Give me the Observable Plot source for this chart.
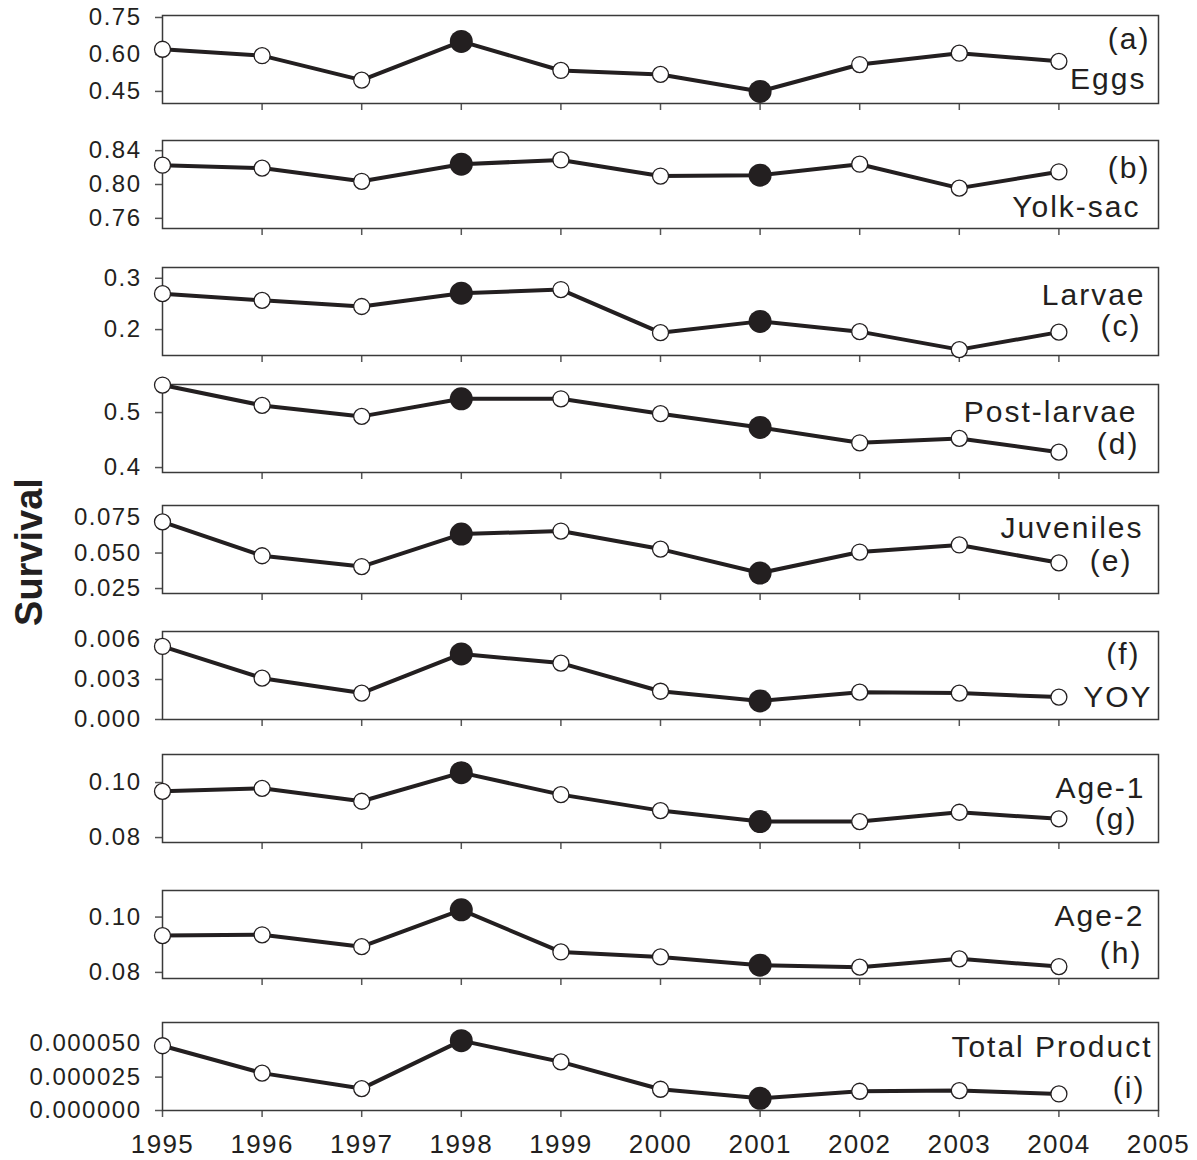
<!DOCTYPE html>
<html>
<head>
<meta charset="utf-8">
<script src="https://cdn.jsdelivr.net/npm/d3@7"></script>
<script src="https://cdn.jsdelivr.net/npm/@observablehq/plot@0.6"></script>
<style>
  body { margin: 0; background: #fff; }
  #chart { position: relative; width: 1197px; height: 1160px; color: #231f20;
           font-family: "Liberation Sans", Arial, Helvetica, sans-serif; }
  #chart svg { position: absolute; left: 0; overflow: visible; background: transparent;
               font-family: "Liberation Sans", Arial, Helvetica, sans-serif; }
  #chart svg [aria-label="y-axis tick label"] text { letter-spacing: 1.5px; }
  #chart svg [aria-label="x-axis tick label"] text { letter-spacing: 1.4px; }
  #chart svg [aria-label="text"] text { letter-spacing: 2px; }
  #ylabel { position: absolute; left: 29px; top: 552px; transform: translate(-50%, -50%) rotate(-90deg);
            font-weight: bold; font-size: 38px; line-height: 1; white-space: nowrap; }
</style>
</head>
<body>
<div id="chart"><div id="ylabel">Survival</div></div>
<script>
// ---- data ----
const years = [1995, 1996, 1997, 1998, 1999, 2000, 2001, 2002, 2003, 2004];
const xTicks = [1995, 1996, 1997, 1998, 1999, 2000, 2001, 2002, 2003, 2004, 2005];
const highlightYears = [1998, 2001];

const eggs       = [0.621, 0.595, 0.496, 0.653, 0.535, 0.519, 0.450, 0.559, 0.605, 0.572];
const yolkSac    = [0.8228, 0.8194, 0.8038, 0.8240, 0.8290, 0.8100, 0.8110, 0.8240, 0.7957, 0.8150];
const larvae     = [0.270, 0.257, 0.245, 0.271, 0.278, 0.194, 0.216, 0.196, 0.161, 0.195];
const postLarvae = [0.550, 0.513, 0.493, 0.525, 0.525, 0.498, 0.473, 0.445, 0.453, 0.428];
const juveniles  = [0.0720, 0.0481, 0.0405, 0.0634, 0.0655, 0.0528, 0.0359, 0.0507, 0.0557, 0.0431];
const yoy        = [0.00548, 0.00310, 0.00198, 0.00492, 0.00423, 0.00212, 0.00139, 0.00205, 0.00198, 0.00168];
const age1       = [0.0968, 0.0979, 0.0932, 0.1036, 0.0956, 0.0898, 0.0858, 0.0858, 0.0892, 0.0868];
const age2       = [0.0933, 0.0936, 0.0893, 0.1026, 0.0874, 0.0856, 0.0826, 0.0819, 0.0849, 0.0821];
const totalProd  = [0.0000485, 0.0000280, 0.0000164, 0.0000523, 0.0000364, 0.0000159, 0.0000091, 0.0000144, 0.0000149, 0.0000124];

const series = [eggs, yolkSac, larvae, postLarvae, juveniles, yoy, age1, age2, totalProd];
const stageNames = ["Eggs", "Yolk-sac", "Larvae", "Post-larvae", "Juveniles", "YOY", "Age-1", "Age-2", "Total Product"];
const panelLetters = ["(a)", "(b)", "(c)", "(d)", "(e)", "(f)", "(g)", "(h)", "(i)"];
const letterFirst = [true, true, false, false, false, true, false, false, false];

const yTicks = [
  [0.45, 0.60, 0.75],
  [0.76, 0.80, 0.84],
  [0.2, 0.3],
  [0.4, 0.5],
  [0.025, 0.050, 0.075],
  [0.000, 0.003, 0.006],
  [0.08, 0.10],
  [0.08, 0.10],
  [0.000000, 0.000025, 0.000050]
];
const yFormats = [".2f", ".2f", ".1f", ".1f", ".3f", ".3f", ".2f", ".2f", ".6f"];
const yDomains = [
  [0.401, 0.758],
  [0.748, 0.852],
  [0.1495, 0.321],
  [0.391, 0.551],
  [0.0215, 0.0835],
  [0, 0.0066],
  [0.0782, 0.1102],
  [0.0778, 0.1096],
  [0, 0.0000659]
];

// ---- layout ----
const frameTops = [15, 140, 267, 384, 505, 631, 754, 890, 1022];
const frameH = 88;
// label offsets from the frame's top-right corner: [dx1, dy1, dx2, dy2]
const labelOffsets = [
  [-8, 33, -12, 73],
  [-8, 37, -18, 76],
  [-13, 37, -17, 68],
  [-21, 37, -19, 69],
  [-15, 32, -26, 65],
  [-18, 32, -6, 75],
  [-13, 43, -21, 74],
  [-14, 35, -16, 72],
  [-6, 34, -13, 75]
];
const ink = "#231f20";

const chart = document.getElementById("chart");

series.forEach((vals, i) => {
  const data = years.map((year, j) => ({year, value: vals[j], hi: highlightYears.includes(year)}));
  const lines = letterFirst[i] ? [panelLetters[i], stageNames[i]] : [stageNames[i], panelLetters[i]];
  const [dx1, dy1, dx2, dy2] = labelOffsets[i];
  const isLast = i === series.length - 1;
  const mt = 14, mb = isLast ? 50 : 14;
  const plot = Plot.plot({
    width: 1197,
    height: frameH + mt + mb,
    marginLeft: 162,
    marginRight: 39,
    marginTop: mt,
    marginBottom: mb,
    x: {domain: [1995, 2005]},
    y: {domain: yDomains[i]},
    marks: [
      Plot.axisY({ticks: yTicks[i], tickFormat: d3.format(yFormats[i]), tickSize: 7, tickPadding: 14,
                  fontSize: 24, stroke: "#555", strokeWidth: 1.5, fill: ink, label: null}),
      Plot.axisX({ticks: isLast ? xTicks : xTicks.slice(1, -1), tickFormat: isLast ? "d" : () => "",
                  tickSize: 7, tickPadding: 17, fontSize: 26, stroke: "#555", strokeWidth: 1.5, fill: ink, label: null}),
      Plot.frame({stroke: "#3a3a3a", strokeWidth: 1.5}),
      Plot.line(data, {x: "year", y: "value", stroke: ink, strokeWidth: 4}),
      Plot.dot(data.filter(d => !d.hi), {x: "year", y: "value", r: 8, fill: "white", stroke: ink, strokeWidth: 1.3}),
      Plot.dot(data.filter(d => d.hi), {x: "year", y: "value", r: 11.5, fill: ink, stroke: "none"}),
      Plot.text([lines[0]], {text: d => d, frameAnchor: "top-right", lineAnchor: "bottom", dx: dx1, dy: dy1, fontSize: 30, fill: ink}),
      Plot.text([lines[1]], {text: d => d, frameAnchor: "top-right", lineAnchor: "bottom", dx: dx2, dy: dy2, fontSize: 30, fill: ink})
    ]
  });
  plot.style.position = "absolute";
  plot.style.left = "0px";
  plot.style.top = (frameTops[i] - mt) + "px";
  plot.style.background = "transparent";
  plot.style.overflow = "visible";
  chart.appendChild(plot);
});
</script>
</body>
</html>
